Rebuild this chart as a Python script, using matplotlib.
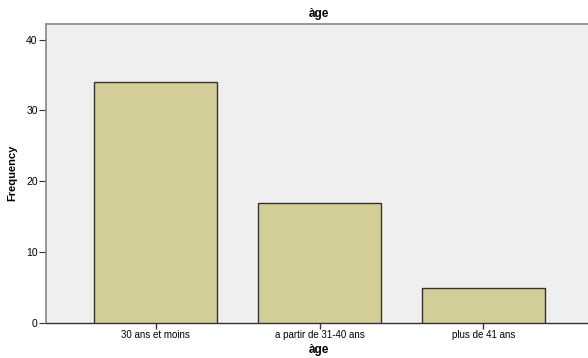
import matplotlib
matplotlib.use('Agg')
import matplotlib.pyplot as plt

categories = ['30 ans et moins', 'a partir de 31-40 ans', 'plus de 41 ans']
frequency = [34, 17, 5]
y_ticks = [0, 10, 20, 30, 40]

plt.rcParams['font.family'] = ['Liberation Sans', 'DejaVu Sans']

fig = plt.figure(figsize=(5.88, 3.58), dpi=100)
fig.patch.set_facecolor('white')

# axes box runs a little past the right edge of the figure
ax = fig.add_axes([46 / 588, 35 / 358, 547 / 588, 299 / 358])
ax.set_facecolor('#efefef')

x = range(len(categories))
ax.bar(x, frequency, width=0.75, color='#d3ce97', edgecolor='#333333', linewidth=1.0, zorder=3)

ax.set_xlim(-0.668, 2.668)
ax.set_ylim(0, 42.2)
ax.set_xticks(list(x))
ax.set_xticklabels(categories, fontsize=7)
ax.set_yticks(y_ticks)
ax.tick_params(axis='y', labelsize=7.5, length=5, width=0.8, color='#333333', pad=1)
ax.tick_params(axis='x', length=4, width=1.0, color='#333333', pad=1)

for side in ['top', 'left', 'right']:
    ax.spines[side].set_color('#888888')
    ax.spines[side].set_linewidth(1.2)
ax.spines['bottom'].set_color('#333333')
ax.spines['bottom'].set_linewidth(1.0)

# axis titles and chart title
fig.text(12 / 588, 1 - 173 / 358, 'Frequency', rotation=90, ha='center', va='center',
         fontsize=8, fontweight='bold')
fig.text(319 / 588, 1 - 350 / 358, 'àge', ha='center', va='center', fontsize=8.5, fontweight='bold')
fig.text(319 / 588, 1 - 14 / 358, 'àge', ha='center', va='center', fontsize=8.5, fontweight='bold')

fig.savefig('out.png', dpi=100)
